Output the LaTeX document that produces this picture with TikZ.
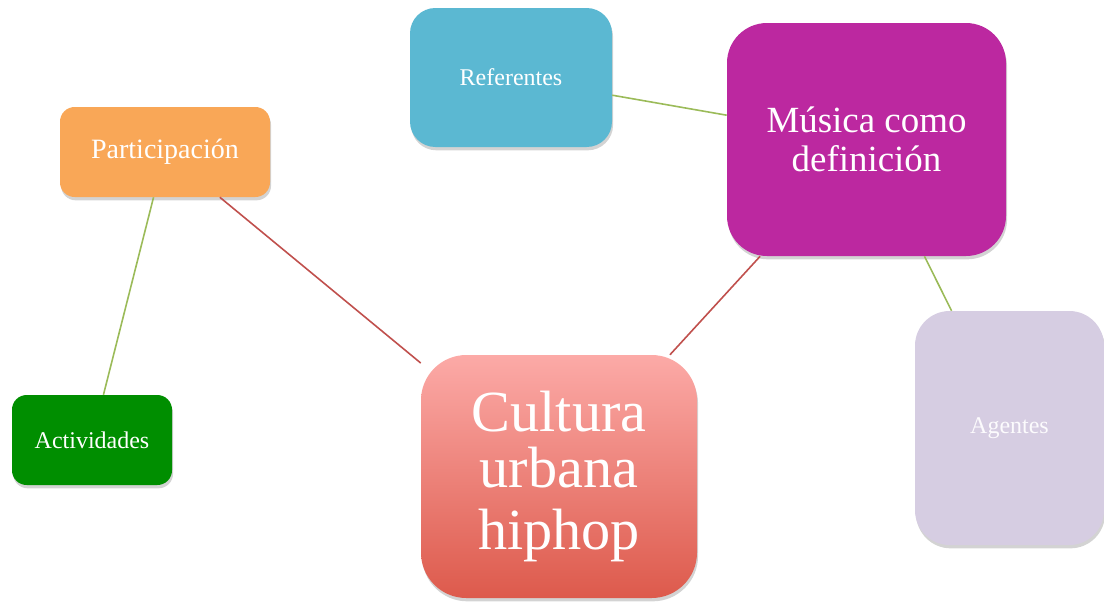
\documentclass[tikz,border=0pt]{standalone}
\usepackage{fontspec}
\setmainfont{Liberation Serif}
\usepackage{tikz}
\usetikzlibrary{shadows}
\definecolor{tuerkis}{HTML}{5BB8D2}
\definecolor{violett}{HTML}{BC28A0}
\definecolor{orangeton}{HTML}{F9A757}
\definecolor{gruen}{HTML}{008E00}
\definecolor{rosa}{HTML}{FCAAA7}
\definecolor{rotton}{HTML}{DD5A4C}
\definecolor{flieder}{HTML}{D6CDE2}
\definecolor{liniegruen}{HTML}{9BBB59}
\definecolor{linierot}{HTML}{C0504D}

\begin{document}
\begin{tikzpicture}[x=0.75pt, y=-0.75pt,
    box/.style={rectangle, rounded corners=#1, text=white, align=center,
      inner sep=0pt,
      drop shadow={shadow xshift=0.8pt, shadow yshift=-2.5pt, opacity=0.35}},
    verbindung/.style={line width=1.2pt}]
  \useasboundingbox (0,0) rectangle (1104,601);

  % Kästen
  \node[box=19pt, fill=tuerkis, minimum width=151.5pt, minimum height=104.25pt,
    font=\fontsize{18}{20}\selectfont] (referentes) at (511,77.5) {Referentes};
  \node[box=30pt, fill=violett, minimum width=209.25pt, minimum height=174.75pt,
    font=\fontsize{27.7}{29.3}\selectfont] (musica) at (866.5,139.5)
    {Música como\\definición};
  \node[box=11pt, fill=orangeton, minimum width=157.5pt, minimum height=67.5pt,
    font=\fontsize{21}{23}\selectfont] (participacion) at (165,152)
    {\raisebox{-2pt}{Participación}};
  \node[box=11pt, fill=gruen, minimum width=120pt, minimum height=67.5pt,
    font=\fontsize{18}{20}\selectfont] (actividades) at (92,440) {Actividades};
  \node[box=34pt, top color=rosa, bottom color=rotton, minimum width=207pt,
    minimum height=182.25pt, font=\fontsize{43.7}{46.5}\selectfont]
    (cultura) at (559,476.5) {\raisebox{-4pt}{Cultura}\\urbana\\hiphop};
  \node[box=26pt, fill=flieder, minimum width=141.75pt, minimum height=175.5pt,
    font=\fontsize{18}{20}\selectfont, text=white!92!flieder]
    (agentes) at (1009.5,428) {\raisebox{-3pt}{Agentes}};

  % Verbindungen
  \draw[verbindung, liniegruen] (referentes) -- (musica);
  \draw[verbindung, liniegruen] (musica) -- (agentes);
  \draw[verbindung, linierot] (musica) -- (cultura);
  \draw[verbindung, linierot] (participacion) -- (cultura);
  \draw[verbindung, liniegruen] (participacion) -- (actividades);
\end{tikzpicture}
\end{document}
